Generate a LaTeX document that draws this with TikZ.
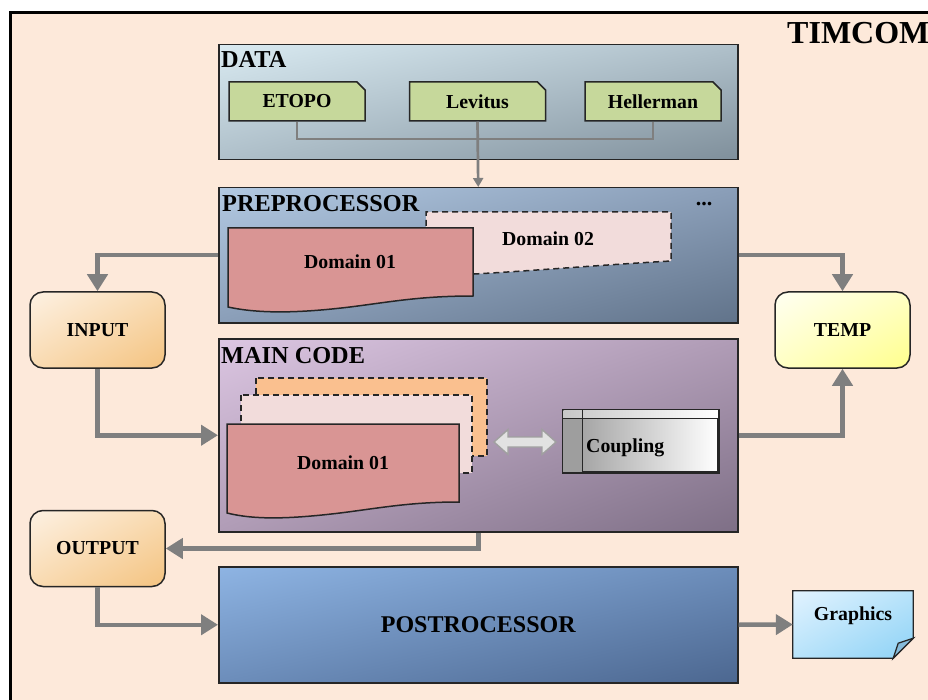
\documentclass[tikz,border=0pt]{standalone}
\usepackage{fontspec}
\setmainfont{Liberation Serif}
\usetikzlibrary{arrows.meta,shapes.misc,shadings}
\definecolor{bgpeach}{HTML}{FDE9DA}
\definecolor{agray}{HTML}{7F7F7F}
\definecolor{itemgreen}{HTML}{C6D89B}
\definecolor{domrose}{HTML}{D99594}
\definecolor{dompink}{HTML}{F2DCDB}
\definecolor{domorange}{HTML}{FAC08F}
\definecolor{dataA}{HTML}{D9EAF1}
\definecolor{dataB}{HTML}{7F8F9B}
\definecolor{dataM}{HTML}{AFC0CA}
\definecolor{preA}{HTML}{B2C9E2}
\definecolor{preB}{HTML}{61738A}
\definecolor{preM}{HTML}{8A9EB8}
\definecolor{mainA}{HTML}{DCC6E2}
\definecolor{mainB}{HTML}{7E6F86}
\definecolor{mainM}{HTML}{B09CB6}
\definecolor{postA}{HTML}{8EB4E3}
\definecolor{postB}{HTML}{4C6790}
\definecolor{postM}{HTML}{6C8DBA}
\definecolor{orA}{HTML}{FDF1E3}
\definecolor{orB}{HTML}{F4C380}
\definecolor{orM}{HTML}{F9DBB2}
\definecolor{yeA}{HTML}{FFFFF2}
\definecolor{yeB}{HTML}{FFFF8C}
\definecolor{yeM}{HTML}{FFFFC4}
\definecolor{grA}{HTML}{E2F3FF}
\definecolor{grB}{HTML}{8DD2F6}
\definecolor{grM}{HTML}{B8E3FA}
\definecolor{foldc}{HTML}{86BBDA}
\definecolor{dblfill}{HTML}{E2E2E2}
\definecolor{dbldraw}{HTML}{A0A0A0}
\begin{document}
\begin{tikzpicture}[x=1pt,y=-1pt,
  sect/.style={draw=black!85, line width=1.5pt, rectangle, anchor=north west, inner sep=0pt, minimum width=519pt},
  slabel/.style={anchor=base west, inner sep=0pt, font=\fontsize{24.3}{24}\selectfont\bfseries},
  txt/.style={font=\fontsize{19.8}{20}\selectfont\bfseries, inner sep=0pt},
  item/.style={txt, draw=black!85, line width=1.5pt, fill=itemgreen, chamfered rectangle, chamfered rectangle corners=north east, chamfered rectangle sep=4pt, minimum width=136pt, minimum height=39pt},
  iobox/.style={txt, draw=black!85, line width=1.5pt, rounded corners=13pt, minimum width=135pt, minimum height=76pt, shading=bilinear interpolation},
  sline/.style={draw=black!85, line width=1.5pt},
  dline/.style={draw=black!85, line width=1.5pt, dash pattern=on 6pt off 4pt},
  conn/.style={draw=agray, line width=4.5pt, -{Triangle[length=17pt,width=20pt]}},
  dconn/.style={draw=agray, line width=2.7pt}
]
\useasboundingbox (0,0) rectangle (928,700);
\begin{scope}
  \clip (0,0) rectangle (928,700);
  \fill[white] (0,0) rectangle (928,700);
  \draw[line width=3pt, fill=bgpeach] (10.5,13) rectangle (960,730);
\end{scope}
\begin{scope}
  \clip (0,0) rectangle (928,700);
  \node[anchor=base west, inner sep=0pt, font=\fontsize{32}{32}\selectfont\bfseries] (title) at (787,44) {TIMCOM};
\end{scope}

% DATA
\node[sect, minimum height=115pt, shading=bilinear interpolation, upper left=dataA, lower right=dataB, upper right=dataM, lower left=dataM] (data) at (218,44) {};
\node[slabel] (datalbl) at (221,68) {DATA};
\node[item] (etopo) at (297,101.5) {ETOPO};
\node[item] (lev) at (477.5,101.5) {Levitus};
\node[item] (hell) at (653,101.5) {Hellerman};
\coordinate (dj) at (477.5,139);
\draw[dconn] (etopo.south) |- (dj) -| (hell.south);

% PREPROCESSOR
\node[sect, minimum height=135pt, shading=bilinear interpolation, upper left=preA, lower right=preB, upper right=preM, lower left=preM] (pre) at (218,187) {};
\draw[dconn, -{Triangle[length=9pt,width=10pt]}] (lev.south) -- (pre.north);
\node[slabel] (prelbl) at (222,212) {PREPROCESSOR};
\node[txt, font=\fontsize{22}{22}\selectfont\bfseries] (dots) at (704,204) {...};
\draw[dline, fill=dompink] (426,276) -- (426,212) -- (671,212) -- (671,261) .. controls (600,265) and (530,271) .. (474,274) -- cycle;
\draw[sline, fill=domrose] (228,307) -- (228,228) -- (473,228) -- (473,296) .. controls (420,296) and (390,302) .. (350,307) .. controls (300,313) and (260,314) .. (228,307) -- cycle;
\node[txt] (d02) at (548,239) {Domain 02};
\node[txt] (d01a) at (350,262) {Domain 01};

% MAIN CODE
\node[sect, minimum height=193pt, shading=bilinear interpolation, upper left=mainA, lower right=mainB, upper right=mainM, lower left=mainM] (main) at (218,338) {};
\node[slabel] (mainlbl) at (221,363) {MAIN CODE};
\draw[dline, fill=domorange] (256,378) rectangle (487,456);
\draw[dline, fill=dompink] (241,395) rectangle (472,473);
\draw[sline, fill=domrose] (227,513) -- (227,424) -- (459,424) -- (459,502) .. controls (410,502) and (380,508) .. (340,513) .. controls (290,519) and (255,520) .. (227,513) -- cycle;
\node[txt] (d01b) at (343,463) {Domain 01};
\coordinate (dbl) at (525,442);
\draw[fill=dblfill, draw=dbldraw, line width=1.4pt] (494,442) -- (508,429.5) -- (508,437) -- (542,437) -- (542,429.5) -- (556,442) -- (542,454.5) -- (542,447) -- (508,447) -- (508,454.5) -- cycle;
\node[draw=black!85, line width=1.5pt, inner sep=0pt, minimum width=155pt, minimum height=62pt, left color=black!40, right color=white] (coup) at (640.5,441) {};
\fill[left color=black!22, right color=white] ([shift={(1pt,-1pt)}]coup.north west) rectangle ([shift={(-1pt,-9pt)}]coup.north east);
\fill[black!38] ([shift={(1pt,-9pt)}]coup.north west) rectangle ([shift={(20pt,1pt)}]coup.south west);
\draw[sline] ([xshift=20pt]coup.north west) -- ([xshift=20pt]coup.south west);
\draw[sline] ([yshift=-9pt]coup.north west) -- ([yshift=-9pt]coup.north east);
\draw[sline] (coup.north west) rectangle (coup.south east);
\node[txt, anchor=base west] (couplbl) at (586,452) {Coupling};

% side boxes
\node[iobox, upper left=orA, lower right=orB, upper right=orM, lower left=orM] (input) at (97.5,330) {INPUT};
\node[iobox, upper left=yeA, lower right=yeB, upper right=yeM, lower left=yeM] (temp) at (842.5,330) {TEMP};
\node[iobox, upper left=orA, lower right=orB, upper right=orM, lower left=orM] (output) at (97.5,548.5) {OUTPUT};

% POSTROCESSOR
\node[sect, minimum height=116pt, shading=bilinear interpolation, upper left=postA, lower right=postB, upper right=postM, lower left=postM] (post) at (218,566) {};
\node[font=\fontsize{24}{24}\selectfont\bfseries, inner sep=0pt] (postlbl) at (post.center) {POSTROCESSOR};

% Graphics
\node[inner sep=0pt, minimum width=120pt, minimum height=67pt] (graph) at (853,624.5) {};
\draw[sline, line width=1.3pt, shading=bilinear interpolation, upper left=grA, lower right=grB, upper right=grM, lower left=grM]
  (graph.north west) -- (graph.north east) -- ([yshift=20pt]graph.south east) -- ([xshift=-20pt]graph.south east) -- (graph.south west) -- cycle;
\draw[sline, line width=1.3pt, fill=foldc] ([yshift=20pt]graph.south east) -- ([xshift=-20pt]graph.south east) -- ([shift={(-15pt,15pt)}]graph.south east) -- cycle;
\node[txt] (graphlbl) at (853,616) {Graphics};

% connectors
\draw[conn] (pre.west) -| (input.north);
\draw[conn] (pre.east) -| (temp.north);
\draw[conn] (input.south) |- (main.west);
\draw[conn] (main.east) -| (temp.south);
\draw[conn] (main.south) |- (output.east);
\draw[conn] (output.south) |- (post.west);
\draw[conn] (post.east) -- (graph.west);
\end{tikzpicture}
\end{document}
